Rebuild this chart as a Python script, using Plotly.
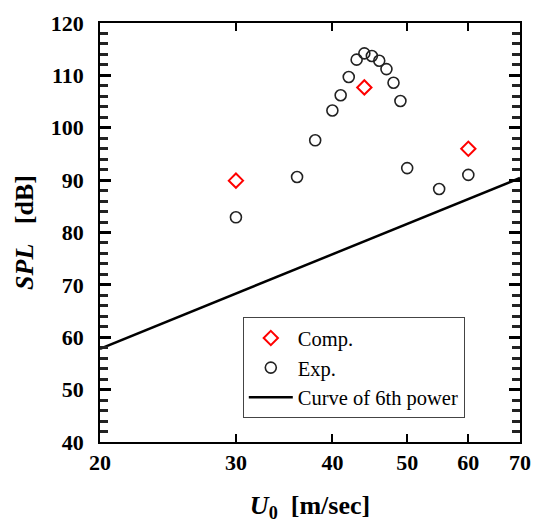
import plotly.graph_objects as go

# Computed sound pressure level
comp_u = [30, 44, 60]
comp_spl = [89.9, 107.7, 96.0]

# Measured sound pressure level
exp_u = [20, 30, 36, 38, 40, 41, 42, 43, 44, 45, 46, 47, 48, 49, 50, 55, 60]
exp_spl = [65.8, 82.9, 90.6, 97.6, 103.3, 106.2, 109.7, 113.0, 114.2, 113.7,
           112.8, 111.2, 108.6, 105.1, 92.3, 88.3, 91.0]

# Reference line proportional to U^6 (straight on the log axis)
power_u = [20, 70]
power_spl = [57.8, 90.4]

x_ticks = [20, 30, 40, 50, 60, 70]

FONT = "Liberation Serif"

fig = go.Figure()
fig.add_trace(go.Scatter(
    x=comp_u, y=comp_spl, mode="markers", name="Comp.", cliponaxis=False,
    marker=dict(symbol="diamond-open", size=11, color="red",
                line=dict(color="red", width=2)),
))
fig.add_trace(go.Scatter(
    x=exp_u, y=exp_spl, mode="markers", name="Exp.", cliponaxis=False,
    marker=dict(symbol="circle-open", size=11, color="#222",
                line=dict(color="#222", width=1.6)),
))
fig.add_trace(go.Scatter(
    x=power_u, y=power_spl, mode="lines", name="Curve of 6th power",
    line=dict(color="black", width=2.5),
))

fig.update_layout(
    width=534, height=523,
    margin=dict(l=100, r=14, t=23, b=81),
    paper_bgcolor="white", plot_bgcolor="white",
    font=dict(family=FONT, color="black"),
    showlegend=True,
    legend=dict(
        x=0.34, y=0.298, xanchor="left", yanchor="top",
        bgcolor="white", bordercolor="#444", borderwidth=1,
        font=dict(family=FONT, size=20.5, color="black"),
        itemwidth=44,
    ),
)

fig.update_xaxes(
    type="log", range=[1.30103, 1.845098], automargin=False,
    tickmode="array", tickvals=x_ticks, ticktext=[str(v) for v in x_ticks],
    ticks="inside", ticklen=8, tickwidth=2, tickcolor="black",
    showline=True, linecolor="black", linewidth=2, mirror="allticks",
    showgrid=False, zeroline=False, layer="above traces",
    tickfont=dict(family=FONT, size=22, weight="bold"),
    title=dict(text="<i>U</i><sub>0</sub>&nbsp; [m/sec]",
               font=dict(family=FONT, size=26, weight="bold"), standoff=21),
)
fig.update_yaxes(
    range=[40, 120], tickmode="linear", tick0=40, dtick=10, automargin=False,
    ticksuffix="\u00a0\u2009",
    ticks="inside", ticklen=11, tickwidth=2.5, tickcolor="black",
    minor=dict(dtick=2, tick0=40, ticks="inside", ticklen=8, tickwidth=2.5,
               tickcolor="#222", showgrid=False),
    showline=True, linecolor="black", linewidth=2, mirror="allticks",
    showgrid=False, zeroline=False, layer="above traces",
    tickfont=dict(family=FONT, size=22, weight="bold"),
    title=dict(text="<i>SPL</i>&nbsp;&nbsp; [dB]",
               font=dict(family=FONT, size=26, weight="bold"), standoff=10),
)

fig.write_html("out.html")
